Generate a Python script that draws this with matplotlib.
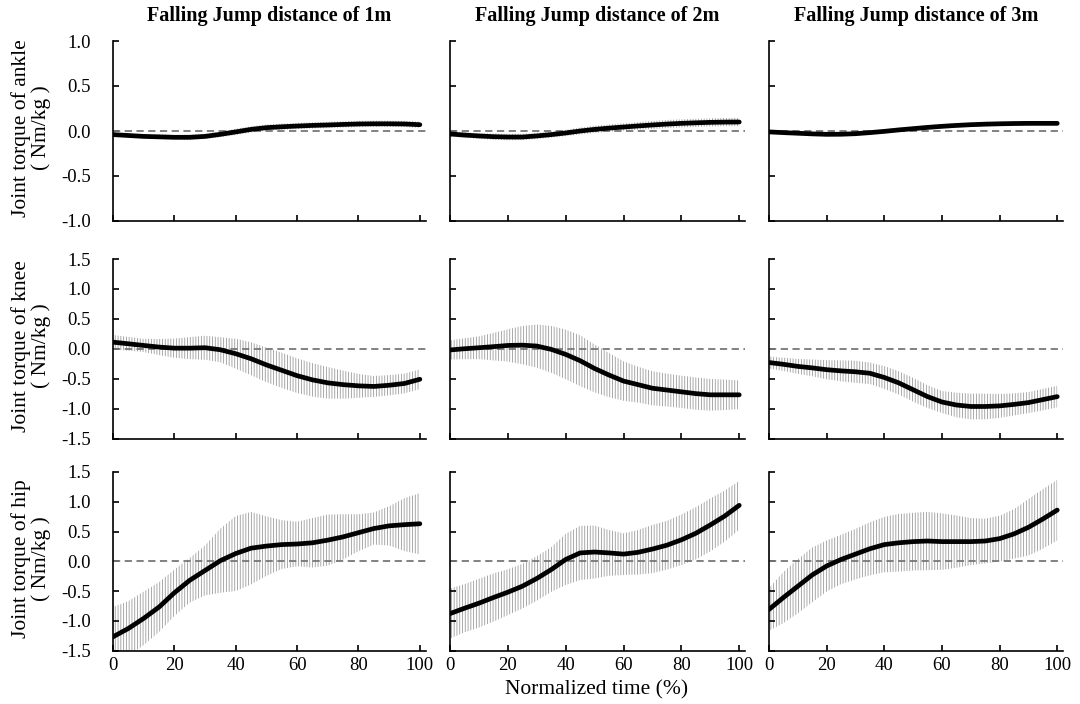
import matplotlib.pyplot as plt

plt.rcParams['font.family'] = ['Liberation Serif', 'DejaVu Serif']
plt.rcParams['axes.unicode_minus'] = False
plt.rcParams['hatch.linewidth'] = 0.6

# normalized time (%)
time = [0, 5, 10, 15, 20, 25, 30, 35, 40, 45, 50, 55, 60, 65, 70, 75, 80, 85, 90, 95, 100]

distances = ['1m', '2m', '3m']
joints = ['ankle', 'knee', 'hip']

# ankle torque (Nm/kg): mean and SD
ankle_1m_mean = [-0.04, -0.05, -0.06, -0.065, -0.07, -0.07, -0.06, -0.037, -0.01, 0.018, 0.037,
                 0.047, 0.055, 0.062, 0.067, 0.073, 0.078, 0.08, 0.08, 0.078, 0.07]
ankle_1m_sd = [0.02, 0.02, 0.022, 0.025, 0.025, 0.028, 0.03, 0.032, 0.035, 0.035, 0.035,
               0.035, 0.035, 0.035, 0.035, 0.035, 0.035, 0.035, 0.035, 0.035, 0.035]
ankle_2m_mean = [-0.033, -0.045, -0.055, -0.063, -0.067, -0.067, -0.055, -0.04, -0.022, 0.0, 0.018,
                 0.032, 0.044, 0.056, 0.067, 0.077, 0.085, 0.091, 0.096, 0.099, 0.1]
ankle_2m_sd = [0.03, 0.03, 0.032, 0.035, 0.035, 0.035, 0.035, 0.035, 0.035, 0.038, 0.04,
               0.04, 0.04, 0.042, 0.045, 0.045, 0.045, 0.045, 0.045, 0.045, 0.045]
ankle_3m_mean = [-0.01, -0.018, -0.025, -0.032, -0.037, -0.036, -0.03, -0.018, -0.004, 0.012, 0.026,
                 0.04, 0.052, 0.062, 0.07, 0.076, 0.08, 0.083, 0.085, 0.085, 0.085]
ankle_3m_sd = [0.015, 0.015, 0.018, 0.02, 0.02, 0.02, 0.02, 0.02, 0.022, 0.025, 0.025,
               0.025, 0.025, 0.025, 0.025, 0.025, 0.025, 0.025, 0.025, 0.025, 0.025]

# knee torque
knee_1m_mean = [0.11, 0.083, 0.055, 0.028, 0.01, 0.01, 0.017, -0.017, -0.083, -0.167, -0.27,
                -0.36, -0.45, -0.52, -0.57, -0.6, -0.62, -0.63, -0.61, -0.58, -0.51]
knee_1m_sd = [0.12, 0.115, 0.11, 0.135, 0.16, 0.185, 0.2, 0.21, 0.25, 0.275, 0.29,
              0.295, 0.29, 0.28, 0.265, 0.235, 0.2, 0.175, 0.17, 0.165, 0.165]
knee_2m_mean = [-0.02, 0.0, 0.017, 0.035, 0.055, 0.06, 0.045, -0.01, -0.094, -0.2, -0.33,
                -0.44, -0.54, -0.6, -0.66, -0.69, -0.72, -0.75, -0.77, -0.77, -0.77]
knee_2m_sd = [0.16, 0.175, 0.19, 0.23, 0.27, 0.32, 0.36, 0.39, 0.415, 0.425, 0.4,
              0.37, 0.33, 0.3, 0.285, 0.275, 0.27, 0.27, 0.265, 0.255, 0.24]
knee_3m_mean = [-0.23, -0.26, -0.295, -0.32, -0.35, -0.37, -0.385, -0.41, -0.48, -0.57, -0.685,
                -0.8, -0.89, -0.94, -0.965, -0.965, -0.955, -0.93, -0.9, -0.85, -0.8]
knee_3m_sd = [0.1, 0.11, 0.125, 0.14, 0.16, 0.175, 0.185, 0.18, 0.19, 0.195, 0.2,
              0.19, 0.185, 0.205, 0.215, 0.215, 0.2, 0.185, 0.175, 0.18, 0.18]

# hip torque
hip_1m_mean = [-1.27, -1.13, -0.96, -0.77, -0.53, -0.32, -0.155, 0.01, 0.13, 0.22, 0.255,
               0.28, 0.29, 0.31, 0.355, 0.41, 0.48, 0.55, 0.595, 0.615, 0.63]
hip_1m_sd = [0.5, 0.46, 0.45, 0.42, 0.39, 0.375, 0.42, 0.54, 0.63, 0.61, 0.5,
             0.41, 0.375, 0.415, 0.43, 0.38, 0.31, 0.27, 0.33, 0.445, 0.515]
hip_2m_mean = [-0.88, -0.79, -0.705, -0.61, -0.52, -0.42, -0.29, -0.14, 0.03, 0.14, 0.155,
               0.14, 0.12, 0.15, 0.205, 0.27, 0.36, 0.47, 0.61, 0.76, 0.94]
hip_2m_sd = [0.42, 0.405, 0.41, 0.405, 0.385, 0.375, 0.375, 0.375, 0.43, 0.455, 0.445,
             0.385, 0.35, 0.375, 0.405, 0.41, 0.425, 0.44, 0.445, 0.43, 0.41]
hip_3m_mean = [-0.81, -0.61, -0.42, -0.23, -0.08, 0.03, 0.12, 0.21, 0.28, 0.31, 0.33,
               0.34, 0.33, 0.33, 0.33, 0.34, 0.38, 0.46, 0.57, 0.71, 0.86]
hip_3m_sd = [0.36, 0.43, 0.455, 0.46, 0.43, 0.415, 0.425, 0.445, 0.465, 0.485, 0.485,
             0.49, 0.475, 0.44, 0.395, 0.375, 0.385, 0.415, 0.475, 0.5, 0.51]

data = {
    'ankle': [(ankle_1m_mean, ankle_1m_sd), (ankle_2m_mean, ankle_2m_sd), (ankle_3m_mean, ankle_3m_sd)],
    'knee': [(knee_1m_mean, knee_1m_sd), (knee_2m_mean, knee_2m_sd), (knee_3m_mean, knee_3m_sd)],
    'hip': [(hip_1m_mean, hip_1m_sd), (hip_2m_mean, hip_2m_sd), (hip_3m_mean, hip_3m_sd)],
}

# layout in pixels (figure 1080 x 704)
W, H = 1080, 704
cols = [(113, 426), (450, 745), (769, 1063)]
rows = [(41, 221), (259, 438.5), (472, 650.5)]
ylims = [(-1.0, 1.0), (-1.5, 1.5), (-1.5, 1.5)]

fig = plt.figure(figsize=(10.8, 7.04), dpi=100)

for r, joint in enumerate(joints):
    top, bottom = rows[r]
    lo, hi = ylims[r]
    yt = [lo + 0.5 * k for k in range(int(round((hi - lo) / 0.5)) + 1)]
    for c, dist in enumerate(distances):
        left, right = cols[c]
        ax = fig.add_axes([left / W, 1 - bottom / H, (right - left) / W, (bottom - top) / H])
        mean, sd = data[joint][c]
        upper = [m + s for m, s in zip(mean, sd)]
        lower = [m - s for m, s in zip(mean, sd)]
        ax.fill_between(time, lower, upper, facecolor='none', edgecolor='#9a9a9a',
                        hatch='||||||', linewidth=0, zorder=1)
        ax.axhline(0, color='#777777', lw=1.3, ls=(0, (4, 2.5)), zorder=2)
        ax.plot(time, mean, color='black', lw=3.4, solid_capstyle='round', zorder=3)

        ax.set_xlim(0, 102)
        ax.set_ylim(lo, hi)
        ax.set_xticks([0, 20, 40, 60, 80, 100])
        ax.set_yticks(yt)
        ax.spines['top'].set_visible(False)
        ax.spines['right'].set_visible(False)
        for s in ['left', 'bottom']:
            ax.spines[s].set_linewidth(1.2)
        ax.tick_params(direction='in', length=4.5, width=1.2, labelsize=13.5)
        ax.tick_params(axis='y', pad=16)
        ax.tick_params(axis='x', pad=5)

        if c == 0:
            ax.set_yticklabels(['%.1f' % v for v in yt])
            fig.text(31 / W, 1 - ((top + bottom) / 2 - 3) / H,
                     'Joint torque of %s\n( Nm/kg )' % joint,
                     rotation=90, ha='center', va='center', multialignment='center',
                     fontsize=15.5, linespacing=1.05)
        else:
            ax.set_yticklabels([])
        if r < 2:
            ax.set_xticklabels([])
        if r == 0:
            fig.text((left + right) / 2 / W, 1 - 16 / H, 'Falling Jump distance of %s' % dist,
                     ha='center', va='center', fontsize=14.5, fontweight='bold')

fig.text(597 / W, 1 - 690 / H, 'Normalized time (%)', ha='center', va='center', fontsize=15.5)

fig.savefig('out.png', dpi=100)
